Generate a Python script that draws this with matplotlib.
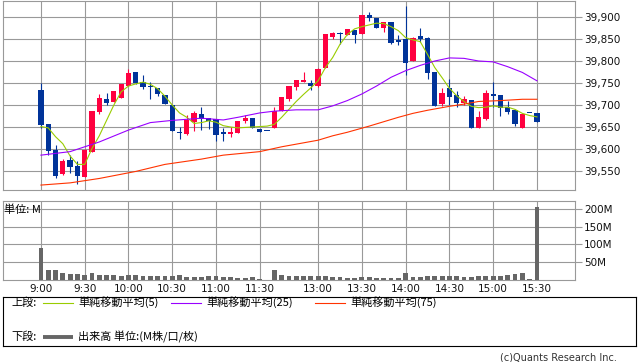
import numpy as np
import matplotlib
matplotlib.use("Agg")
import matplotlib.pyplot as plt
from matplotlib.ticker import FuncFormatter

# 5-minute candles, one per slot (slot 31 is the lunch-break filler)
opens = [39734, 39657, 39598, 39543, 39575, 39561, 39537, 39594, 39685, 39714,
         39707, 39717, 39743, 39776, 39752, 39744, 39739, 39723, 39699, 39638,
         39634, 39662, 39680, 39670, 39668, 39639, 39634, 39637, 39664, 39671,
         39645, 39642, 39648, 39686, 39714, 39742, 39753, 39751, 39744, 39785,
         39855, 39863, 39859, 39870, 39861, 39905, 39897, 39874, 39888, 39848,
         39850, 39801, 39857, 39853, 39776, 39702, 39738, 39723, 39705, 39711,
         39647, 39669, 39725, 39723, 39696, 39689, 39648, 39681, 39681]
highs = [39751, 39657, 39609, 39577, 39586, 39573, 39600, 39686, 39724, 39727,
         39732, 39748, 39782, 39776, 39768, 39752, 39739, 39723, 39699, 39651,
         39677, 39686, 39695, 39670, 39668, 39647, 39651, 39664, 39677, 39671,
         39645, 39642, 39695, 39718, 39743, 39757, 39775, 39757, 39784, 39861,
         39867, 39867, 39873, 39870, 39905, 39911, 39897, 39888, 39888, 39859,
         39925, 39855, 39874, 39855, 39776, 39738, 39758, 39732, 39720, 39711,
         39686, 39734, 39752, 39723, 39710, 39689, 39680, 39681, 39681]
lows = [39648, 39586, 39534, 39540, 39545, 39520, 39537, 39594, 39680, 39700,
        39707, 39717, 39743, 39748, 39736, 39714, 39721, 39702, 39642, 39622,
        39632, 39642, 39643, 39645, 39619, 39619, 39628, 39637, 39660, 39647,
        39639, 39641, 39648, 39686, 39710, 39733, 39753, 39733, 39740, 39785,
        39849, 39838, 39859, 39840, 39861, 39892, 39874, 39867, 39839, 39836,
        39768, 39801, 39844, 39759, 39698, 39698, 39700, 39696, 39700, 39648,
        39647, 39666, 39696, 39675, 39680, 39652, 39648, 39681, 39662]
closes = [39654, 39596, 39539, 39573, 39560, 39539, 39598, 39686, 39715, 39705,
          39732, 39748, 39773, 39749, 39742, 39740, 39724, 39702, 39642, 39637,
          39666, 39681, 39668, 39664, 39632, 39634, 39639, 39664, 39670, 39647,
          39639, 39641, 39686, 39718, 39743, 39757, 39756, 39744, 39782, 39861,
          39863, 39861, 39873, 39859, 39905, 39897, 39874, 39888, 39842, 39844,
          39796, 39853, 39850, 39773, 39698, 39727, 39719, 39705, 39714, 39648,
          39673, 39727, 39720, 39693, 39685, 39657, 39680, 39681, 39662]
volumes = [89, 28, 28, 21, 17, 17, 14, 19, 14, 14,
           14, 11, 14, 14, 11, 11, 11, 11, 11, 14,
           8, 8, 8, 11, 11, 8, 8, 6, 6, 8,
           3, 0, 28, 14, 11, 11, 11, 11, 11, 11,
           8, 8, 6, 6, 8, 8, 6, 6, 6, 6,
           19, 8, 8, 11, 11, 11, 11, 11, 8, 8,
           11, 11, 11, 11, 14, 17, 19, 3, 206]

# moving averages
ma5 = [39651, 39648, 39628, 39612, 39584, 39565, 39565, 39601, 39630, 39665,
       39700, 39730, 39743, 39748, 39752, 39747, 39737, 39720, 39700, 39682,
       39672, 39658, 39660, 39664, 39661, 39653, 39650, 39648, 39649, 39650,
       39651, 39652, 39656, 39672, 39690, 39708, 39724, 39739, 39755, 39785,
       39808, 39838, 39860, 39873, 39878, 39882, 39886, 39885, 39878, 39869,
       39853, 39848, 39844, 39815, 39785, 39762, 39738, 39721, 39708, 39697,
       39694, 39695, 39698, 39695, 39695, 39690, 39681, 39676, 39673]
ma25_slot = [0, 4, 8, 12, 15, 18, 22, 25, 27, 30, 32, 35, 38, 40, 42, 44,
             46, 48, 50, 52, 54, 56, 58, 60, 62, 64, 66, 68]
ma25 = [39586, 39594, 39616, 39643, 39660, 39665, 39670, 39666, 39672, 39682,
        39686, 39689, 39689, 39698, 39710, 39725, 39743, 39763, 39778, 39790,
        39800, 39807, 39806, 39800, 39798, 39787, 39774, 39755]
ma75_slot = [0, 4, 8, 13, 17, 22, 25, 30, 33, 36, 38, 40, 42, 45, 47, 49,
             51, 53, 56, 58, 60, 63, 66, 68]
ma75 = [39518, 39523, 39533, 39549, 39565, 39577, 39586, 39594, 39605, 39614,
        39620, 39630, 39638, 39652, 39662, 39672, 39681, 39688, 39697, 39702,
        39708, 39710, 39713, 39713]

tick_slots = [0, 6, 12, 18, 24, 30, 38, 44, 50, 56, 62, 68]
tick_labels = ['9:00', '9:30', '10:00', '10:30', '11:00', '11:30',
               '13:00', '13:30', '14:00', '14:30', '15:00', '15:30']

UP, DOWN = '#FF0040', '#003399'
GREEN, PURPLE, ORANGE = '#99CC00', '#9900FF', '#FF3300'
GRID = '#999999'
JP = ['Noto Sans CJK JP', 'DejaVu Sans']

W, H = 638, 362
fig = plt.figure(figsize=(W / 100, H / 100), dpi=100)


def box(l, t, r, b):
    return [l / W, 1 - b / H, (r - l) / W, (b - t) / H]


ax = fig.add_axes(box(3, 0.5, 574.5, 190))
axv = fig.add_axes(box(3, 201, 574.5, 280))

x = np.arange(len(closes))
o = np.array(opens)
c = np.array(closes)
colors = [UP if cc > oo else DOWN for oo, cc in zip(o, c)]
body_lo = np.minimum(o, c)
body_h = np.maximum(np.abs(c - o), 2.3)

ax.vlines(x, lows, highs, colors=colors, lw=0.8, zorder=2)
ax.bar(x, body_h, bottom=body_lo, width=0.72, color=colors, lw=0, zorder=3)
ax.plot(x, ma5, color=GREEN, lw=0.8, zorder=4)
ax.plot(ma25_slot, ma25, color=PURPLE, lw=0.8, zorder=4)
ax.plot(ma75_slot, ma75, color=ORANGE, lw=0.8, zorder=4)

axv.bar(x, volumes, width=0.66, color='#666666', lw=0, zorder=3)

for a in (ax, axv):
    a.set_xlim(-5.2, 73.15)
    a.set_xticks(tick_slots)
    a.grid(True, color=GRID, lw=0.8, zorder=0)
    a.set_axisbelow(True)
    for s in a.spines.values():
        s.set_color(GRID)
        s.set_linewidth(0.8)
    a.yaxis.tick_right()
    a.tick_params(axis='y', length=5, width=0.8, color=GRID, pad=2,
                  labelsize=7.5, labelcolor='#111111')
    a.tick_params(axis='x', length=0)

ax.set_ylim(39506.8, 39937.5)
ax.set_yticks(range(39550, 39901, 50))
ax.yaxis.set_major_formatter(FuncFormatter(lambda v, p: f'{int(v):,}'))
ax.set_xticklabels([])

axv.set_ylim(0, 222)
axv.set_yticks([50, 100, 150, 200])
axv.yaxis.set_major_formatter(FuncFormatter(lambda v, p: f'{int(v)}M'))
axv.set_xticklabels(tick_labels)
axv.tick_params(axis='x', pad=3, labelsize=7.5, labelcolor='#111111')

fig.text(4 / W, 1 - 210 / H, '単位: M', va='center', fontsize=8, family=JP)

# legend box
lg = fig.add_axes(box(3, 297, 636, 346))
lg.set_xlim(3, 636)
lg.set_ylim(346, 297)
lg.set_xticks([])
lg.set_yticks([])
for s in lg.spines.values():
    s.set_color('black')
    s.set_linewidth(0.8)

y1, y2 = 302.5, 337
lg.text(11, y1, '上段:', va='center', fontsize=8, family=JP)
for (x0, col, label) in [(43, GREEN, '単純移動平均(5)'),
                         (171, PURPLE, '単純移動平均(25)'),
                         (315, ORANGE, '単純移動平均(75)')]:
    lg.plot([x0, x0 + 30], [y1, y1], color=col, lw=0.8)
    lg.text(x0 + 35, y1, label, va='center', fontsize=8, family=JP)
lg.text(11, y2, '下段:', va='center', fontsize=8, family=JP)
lg.plot([43, 73], [y2, y2], color='#666666', lw=2.8, solid_capstyle='butt')
lg.text(78, y2, '出来高 単位:(M株/口/枚)', va='center', fontsize=8, family=JP)

fig.text(617 / W, 1 - 357 / H, '(c)Quants Research Inc.', ha='right', va='center',
         fontsize=7, color='#333333')

fig.savefig('out.png', dpi=100)
